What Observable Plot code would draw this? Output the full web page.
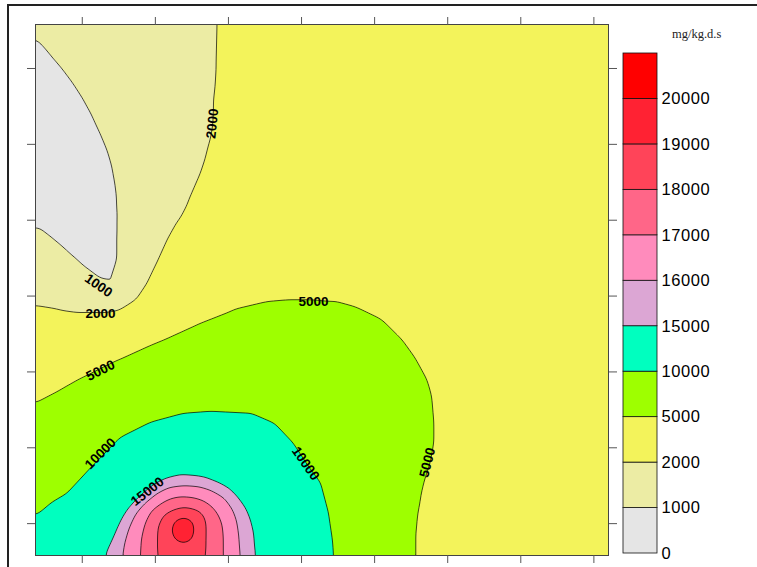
<!DOCTYPE html>
<html><head><meta charset="utf-8">
<script src="https://cdn.jsdelivr.net/npm/d3@7"></script>
<script src="https://cdn.jsdelivr.net/npm/@observablehq/plot@0.6"></script>
<style>
html,body{margin:0;padding:0;background:#fff;}
#wrap{position:relative;width:757px;height:567px;overflow:hidden;font-family:"Liberation Sans",Arial,sans-serif;}
#border{position:absolute;left:7px;top:4px;width:800px;height:600px;border-top:2px solid #222;border-left:2px solid #222;}
#main{position:absolute;left:0;top:0;}
#legend{position:absolute;left:600px;top:0;}
#legend text{letter-spacing:0.6px;}
#unit{position:absolute;left:672px;top:27px;font-family:"Liberation Serif","Times New Roman",serif;font-size:12.5px;color:#222;}
</style></head><body>
<div id="wrap"><div id="border"></div><div id="main"></div><div id="legend"></div><div id="unit">mg/kg.d.s</div></div>
<script>
// contour levels and their colours
const levels = [0, 1000, 2000, 5000, 10000, 15000, 16000, 17000, 18000, 19000, 20000];
const colors = ["#e5e5e5", "#ececa4", "#f3f35b", "#9eff00", "#00ffbf", "#dca6d4", "#ff8bbc", "#ff6688", "#ff4459", "#ff2233", "#ff0000"];
const xTicks = [0, 1, 2, 3, 4, 5, 6, 7];
const yTicks = [0, 1, 2, 3, 4, 5, 6];

// points (x, y in plot units); value = that level
const c1000 = [[-0.64,6.381],[-0.476,6.210],[-0.298,6.012],[-0.134,5.801],[0.016,5.577],[0.140,5.366],[0.249,5.142],[0.345,4.918],[0.413,4.694],[0.454,4.483],[0.482,4.259],[0.495,4.048],[0.495,3.824],[0.495,3.468],[0.482,3.165],[0.482,3.033],[0.386,3.086],[0.249,3.191],[0.016,3.363],[-0.134,3.495],[-0.298,3.640],[-0.462,3.771],[-0.64,3.903]];
const c2000 = [[1.850,6.579],[1.836,6.012],[1.822,5.775],[1.795,5.538],[1.781,5.248],[1.740,5.024],[1.686,4.813],[1.617,4.615],[1.439,4.220],[1.303,3.969],[1.166,3.732],[1.029,3.442],[0.892,3.165],[0.755,2.967],[0.495,2.809],[0.249,2.770],[0.003,2.770],[-0.298,2.809],[-0.64,2.862]];
const c5000 = [[-0.64,1.583],[-0.298,1.755],[0.016,1.926],[0.482,2.150],[0.933,2.348],[1.166,2.440],[1.617,2.638],[2.069,2.809],[2.534,2.915],[2.849,2.941],[3.163,2.941],[3.437,2.915],[3.738,2.835],[4.080,2.677],[4.354,2.414],[4.531,2.176],[4.696,1.886],[4.764,1.662],[4.791,1.359],[4.791,1.095],[4.737,0.805],[4.655,0.568],[4.600,0.344],[4.559,0.133],[4.531,-0.157],[4.531,-0.42]];
const c10000 = [[-0.64,0.107],[-0.435,0.265],[-0.202,0.397],[0.153,0.766],[0.523,1.135],[0.933,1.333],[1.385,1.451],[1.754,1.478],[2.301,1.451],[2.616,1.320],[2.876,1.056],[3.054,0.792],[3.259,0.529],[3.368,0.133],[3.423,-0.223],[3.437,-0.42]];
const c15000 = [[0.317,-0.42],[0.372,-0.289],[0.454,-0.117],[0.536,0.054],[0.632,0.199],[0.755,0.331],[0.878,0.436],[1.002,0.529],[1.138,0.595],[1.344,0.647],[1.521,0.634],[1.686,0.608],[1.850,0.542],[2.000,0.463],[2.123,0.344],[2.233,0.199],[2.301,0.041],[2.342,-0.117],[2.356,-0.289],[2.370,-0.42]];
const c16000 = [[0.550,-0.42],[0.577,-0.249],[0.632,-0.065],[0.728,0.133],[0.865,0.278],[1.015,0.397],[1.179,0.476],[1.412,0.502],[1.604,0.489],[1.781,0.436],[1.946,0.344],[2.055,0.199],[2.110,0.054],[2.137,-0.117],[2.151,-0.289],[2.164,-0.42]];
const c17000 = [[0.796,-0.42],[0.810,-0.196],[0.865,0.015],[0.947,0.173],[1.097,0.278],[1.207,0.331],[1.344,0.357],[1.508,0.344],[1.645,0.305],[1.768,0.225],[1.864,0.107],[1.918,-0.025],[1.932,-0.157],[1.932,-0.42]];
const c18000 = [[1.029,-0.42],[1.029,-0.223],[1.043,-0.025],[1.111,0.107],[1.234,0.173],[1.385,0.212],[1.494,0.199],[1.590,0.173],[1.658,0.107],[1.686,0.015],[1.686,-0.223],[1.686,-0.42]];
const c19000 = [[1.220,-0.078],[1.261,0.041],[1.385,0.094],[1.508,0.041],[1.535,-0.078],[1.508,-0.196],[1.385,-0.249],[1.261,-0.196]];

// extra readings between the lines [x, y, value]
const spots = [
  [-0.64,5.142,400],[-0.64,5.775,650],[-0.64,4.457,600],[-0.230,4.918,650],[0.112,4.259,800],[0.317,3.534,900],
  [-0.64,6.579,1050],[0.523,6.579,1500],[0.386,6.105,1350],[1.002,4.918,1500],[-0.64,3.402,1500],
  [2.985,6.579,2600],[5.038,6.579,3000],[7.2,6.579,3200],[7.2,4.259,3400],[7.2,1.886,3500],[7.2,-0.42,3500],
  [5.859,-0.42,3900],[-0.64,2.216,3300],[2.301,4.259,2700],[2.712,5.577,2500],[4.354,4.918,3200],[5.722,2.941,4000],[5.448,0.964,4300],
  [-0.64,-0.157,10800],[-0.64,-0.42,11900],
  [1.385,-0.078,19800],[1.385,-0.42,18600]
];

// contour labels
const labelText  = ["2000", "1000", "2000", "5000", "5000", "10000", "10000", "15000", "5000"];
const labelX     = [1.781, 0.222, 0.249, 3.163, 0.249, 0.249, 3.054, 0.892, 4.723];
const labelY     = [5.274, 3.139, 2.770, 2.928, 2.018, 0.924, 0.792, 0.423, 0.805];
const labelAngle = [-84, 35, 0, 0, -27, -45, 55, -38, -76];

const lines = [[1000, c1000], [2000, c2000], [5000, c5000], [10000, c10000], [15000, c15000], [16000, c16000], [17000, c17000], [18000, c18000], [19000, c19000]];
const points = lines.flatMap(([v, pts]) => pts.map(([x, y]) => ({x, y, v})))
  .concat(spots.map(([x, y, v]) => ({x, y, v})));
const labels = labelText.map((t, i) => ({t, x: labelX[i], y: labelY[i], r: labelAngle[i]}));

const color = {type: "threshold", domain: levels.slice(1), range: colors};
const tickOpts = {tickSize: 8, tickFormat: () => "", stroke: "#555", label: null};

const main = Plot.plot({
  width: 620, height: 567,
  marginLeft: 35, marginTop: 24, marginRight: 12, marginBottom: 12,
  style: {fontFamily: "Liberation Sans, Arial, sans-serif", background: "transparent"},
  x: {domain: [-0.64, 7.2]},
  y: {domain: [-0.42, 6.58]},
  color,
  marks: [
    Plot.frame({fill: colors[0]}),
    Plot.contour(points, {x: "x", y: "y", fill: "v", thresholds: levels, interpolate: "barycentric",
      pixelSize: 1, blur: 3, stroke: "#000", strokeWidth: 0.7}),
    Plot.text(labels, {x: "x", y: "y", text: "t", rotate: "r", fontSize: 13.5, fontWeight: "bold", fill: "#000"}),
    Plot.frame({stroke: "#444"}),
    Plot.axisX({anchor: "top", ticks: xTicks, ...tickOpts}),
    Plot.axisX({anchor: "bottom", ticks: xTicks, ...tickOpts}),
    Plot.axisY({anchor: "left", ticks: yTicks, ...tickOpts}),
    Plot.axisY({anchor: "right", ticks: yTicks, ...tickOpts})
  ]
});
document.getElementById("main").appendChild(main);

const bins = levels.map((lv, i) => ({i, lv, label: String(lv)}));
const legend = Plot.plot({
  width: 157, height: 567,
  marginTop: 53, marginBottom: 14, marginLeft: 23, marginRight: 100,
  style: {fontFamily: "Liberation Sans, Arial, sans-serif", background: "transparent", overflow: "visible"},
  x: {domain: [0, 1], axis: null},
  y: {domain: [0, 11], axis: null},
  color,
  marks: [
    Plot.rect(bins, {x1: 0, x2: 1, y1: "i", y2: d => d.i + 1, fill: "lv", stroke: "#111", strokeWidth: 0.8}),
    Plot.text(bins, {x: 1, y: "i", text: "label", dx: 4, textAnchor: "start", fontSize: 16.5, fill: "#000"})
  ]
});
document.getElementById("legend").appendChild(legend);
</script>
</body></html>
